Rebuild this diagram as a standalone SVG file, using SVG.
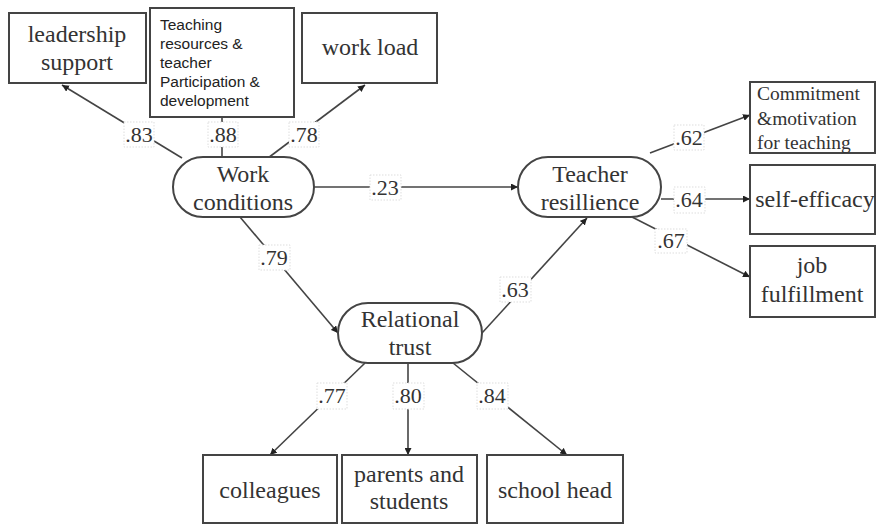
<svg xmlns="http://www.w3.org/2000/svg" width="876" height="525" viewBox="0 0 876 525">
<style>
.box{fill:#fff;stroke:#444;stroke-width:2}
.pill{fill:#fff;stroke:#444;stroke-width:2}
.t{font-family:"Liberation Serif",serif;font-size:24px;fill:#333;text-anchor:middle}
.ts{font-family:"Liberation Sans",sans-serif;font-size:15.5px;fill:#222}
.tl{font-family:"Liberation Serif",serif;font-size:19.5px;fill:#333}
.c{stroke:#444;stroke-width:1.6;fill:none}
.lb{fill:#fff;stroke:#ddd;stroke-width:1;stroke-dasharray:1.5 1.5}
.lt{font-family:"Liberation Serif",serif;font-size:22px;fill:#333;text-anchor:middle}
</style>
<defs>
<marker id="ah" viewBox="0 0 10 10" refX="10" refY="5" markerWidth="7" markerHeight="7" markerUnits="userSpaceOnUse" orient="auto"><path d="M0,0 L10,5 L0,10 z" fill="#222"/></marker>
</defs>
<rect width="876" height="525" fill="#fff"/>
<g id="connectors">
<line class="c" x1="182" y1="158" x2="62" y2="85" marker-end="url(#ah)"/>
<line class="c" x1="222" y1="158" x2="222" y2="118"/>
<line class="c" x1="268" y1="158" x2="365" y2="85" marker-end="url(#ah)"/>
<line class="c" x1="314" y1="187" x2="518" y2="187" marker-end="url(#ah)"/>
<line class="c" x1="240" y1="217" x2="338" y2="333" marker-end="url(#ah)"/>
<line class="c" x1="482" y1="333" x2="587" y2="218" marker-end="url(#ah)"/>
<line class="c" x1="650" y1="153" x2="750" y2="115" marker-end="url(#ah)"/>
<line class="c" x1="661" y1="199" x2="750" y2="199" marker-end="url(#ah)"/>
<line class="c" x1="632" y1="217" x2="750" y2="277" marker-end="url(#ah)"/>
<line class="c" x1="365" y1="363" x2="270" y2="455" marker-end="url(#ah)"/>
<line class="c" x1="408" y1="363" x2="408" y2="455" marker-end="url(#ah)"/>
<line class="c" x1="453" y1="363" x2="567" y2="455" marker-end="url(#ah)"/>
<g id="labels">
<rect class="lb" x="124" y="122" width="30" height="25"/><text class="lt" x="139" y="142">.83</text>
<rect class="lb" x="208" y="122" width="30" height="25"/><text class="lt" x="223" y="142">.88</text>
<rect class="lb" x="289" y="122" width="30" height="25"/><text class="lt" x="304" y="142">.78</text>
<rect class="lb" x="370" y="175" width="31" height="25"/><text class="lt" x="385" y="195">.23</text>
<rect class="lb" x="259" y="245" width="31" height="25"/><text class="lt" x="274" y="265">.79</text>
<rect class="lb" x="500" y="277" width="31" height="25"/><text class="lt" x="515" y="297">.63</text>
<rect class="lb" x="674" y="125" width="30" height="25"/><text class="lt" x="689" y="145">.62</text>
<rect class="lb" x="674" y="187" width="31" height="26"/><text class="lt" x="689" y="207">.64</text>
<rect class="lb" x="655" y="229" width="32" height="24"/><text class="lt" x="671" y="248">.67</text>
<rect class="lb" x="317" y="383" width="30" height="26"/><text class="lt" x="332" y="403">.77</text>
<rect class="lb" x="393" y="383" width="31" height="26"/><text class="lt" x="408" y="403">.80</text>
<rect class="lb" x="477" y="383" width="31" height="26"/><text class="lt" x="492" y="403">.84</text>
</g>
</g>
<g id="leadership"><rect class="box" x="9" y="13" width="137" height="70"/><text class="t" x="77" y="42">leadership</text><text class="t" x="77" y="70">support</text></g>
<g id="teaching"><rect class="box" x="150" y="8" width="144" height="109"/>
<text class="ts" x="160" y="30">Teaching</text><text class="ts" x="160" y="49">resources &amp;</text><text class="ts" x="160" y="68">teacher</text><text class="ts" x="160" y="87">Participation &amp;</text><text class="ts" x="160" y="106">development</text></g>
<g id="workload"><rect class="box" x="302" y="13" width="135" height="70"/><text class="t" x="370" y="55">work load</text></g>
<g id="workcond"><rect class="pill" x="173" y="157" width="141" height="60" rx="30"/><text class="t" x="243" y="182">Work</text><text class="t" x="243" y="210">conditions</text></g>
<g id="resil"><rect class="pill" x="518" y="157" width="143" height="60" rx="30"/><text class="t" x="590" y="182">Teacher</text><text class="t" x="590" y="210">resillience</text></g>
<g id="commit"><rect class="box" x="750" y="82" width="125" height="71"/><text class="tl" x="757" y="100">Commitment</text><text class="tl" x="757" y="125">&amp;motivation</text><text class="tl" x="757" y="149">for teaching</text></g>
<g id="selfeff"><rect class="box" x="750" y="165" width="125" height="69"/><text class="t" x="815" y="207">self-efficacy</text></g>
<g id="job"><rect class="box" x="750" y="246" width="125" height="71"/><text class="t" x="812" y="273">job</text><text class="t" x="812" y="302">fulfillment</text></g>
<g id="reltrust"><rect class="pill" x="338" y="303" width="144" height="60" rx="30"/><text class="t" x="410" y="327">Relational</text><text class="t" x="410" y="355">trust</text></g>
<g id="colleagues"><rect class="box" x="203" y="455" width="134" height="68"/><text class="t" x="270" y="498">colleagues</text></g>
<g id="parents"><rect class="box" x="342" y="455" width="135" height="68"/><text class="t" x="409" y="482">parents and</text><text class="t" x="409" y="509">students</text></g>
<g id="schoolhead"><rect class="box" x="487" y="455" width="136" height="68"/><text class="t" x="555" y="498">school head</text></g>
</svg>
